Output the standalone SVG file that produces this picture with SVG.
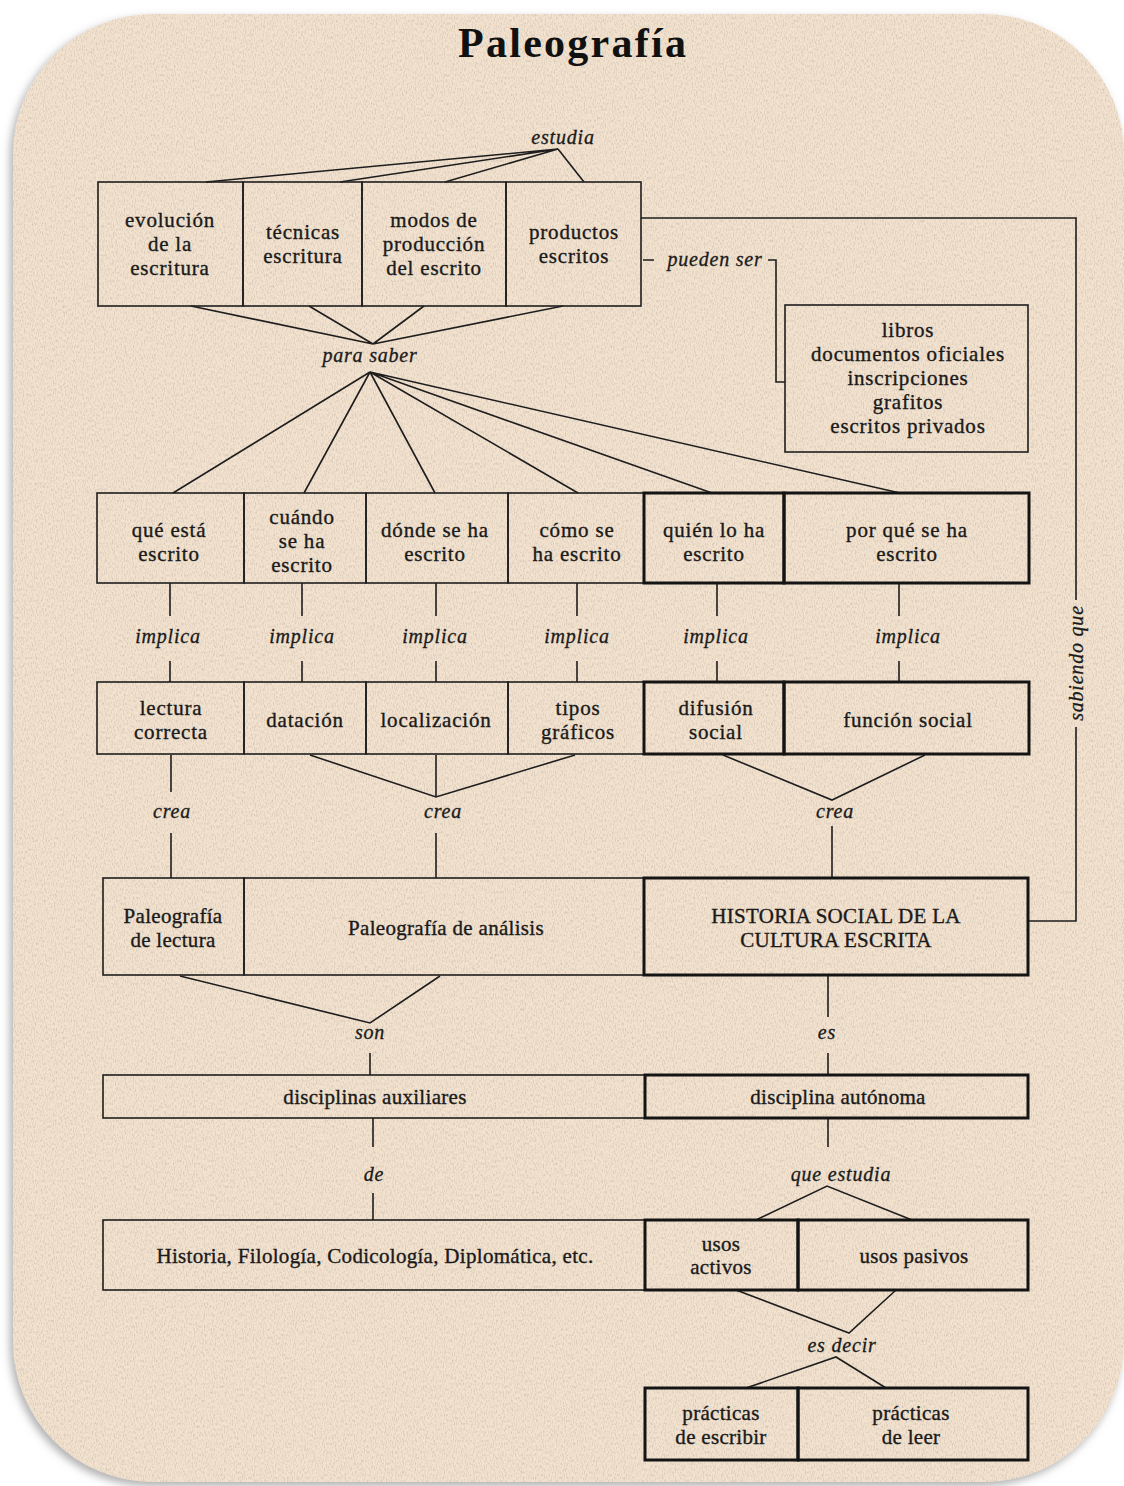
<svg xmlns="http://www.w3.org/2000/svg" width="1124" height="1486" viewBox="0 0 1124 1486">
<defs>
<filter id="sh" x="-5%" y="-5%" width="110%" height="110%">
<feDropShadow dx="-3" dy="4" stdDeviation="4" flood-color="#7a7a7a" flood-opacity="0.6"/>
</filter>
<filter id="noise" x="0" y="0" width="100%" height="100%">
<feTurbulence type="fractalNoise" baseFrequency="0.9 0.35" numOctaves="2" seed="3" result="n"/>
<feColorMatrix in="n" type="matrix" values="0 0 0 0 0.45  0 0 0 0 0.4  0 0 0 0 0.35  0 0 0 -2.2 1.25" result="m"/>
<feComposite in="m" in2="SourceGraphic" operator="in"/>
</filter>
<style>
.t{font-family:"Liberation Serif","Times New Roman",serif;font-size:21px;fill:#1a1a1a;stroke:#1a1a1a;stroke-width:0.35;text-anchor:middle;letter-spacing:0.8px}
.c{font-family:"Liberation Serif","Times New Roman",serif;font-size:21px;fill:#1a1a1a;stroke:#1a1a1a;stroke-width:0.35;text-anchor:middle;letter-spacing:0.3px}
.i{font-family:"Liberation Serif","Times New Roman",serif;font-size:20px;font-style:italic;fill:#1a1a1a;stroke:#1a1a1a;stroke-width:0.3;text-anchor:middle;letter-spacing:0.8px}
.b{fill:none;stroke:#1e1e1e;stroke-width:1.6}
.B{fill:none;stroke:#141414;stroke-width:3}
.l{fill:none;stroke:#1e1e1e;stroke-width:1.6}
</style>
</defs>
<rect width="1124" height="1486" fill="#ffffff"/>
<rect x="13" y="14" width="1111" height="1468" rx="140" ry="140" fill="#f3e2ce" filter="url(#sh)"/>
<rect x="13" y="14" width="1111" height="1468" rx="140" ry="140" fill="#f3e2ce" filter="url(#noise)" opacity="0.5"/>
<text x="572" y="57" text-anchor="middle" font-family="Liberation Serif,serif" font-weight="bold" font-size="42" textLength="228" fill="#111">Paleografía</text>

<g id="connectors">
<path class="l" d="M558,149 L206,182 M558,149 L340,182 M558,149 L445,182 M558,149 L584,182"/>
<path class="l" d="M191,306 L373,344 M309,306 L373,344 M424,306 L373,344 M563,306 L373,344"/>
<path class="l" d="M370,372 L173,493 M370,372 L304,493 M370,372 L435,493 M370,372 L578,493 M370,372 L712,493 M370,372 L900,493"/>
<path class="l" d="M643,260 H654 M768,260 H776 V382 H785"/>
<path class="l" d="M641,218 H1076 V600 M1076,727 V921 H1028"/>
<path class="l" d="M170,583 V616 M170,661 V682 M302,583 V616 M302,661 V682 M436,583 V616 M436,661 V682 M577,583 V616 M577,661 V682 M717,583 V616 M717,661 V682 M899,583 V616 M899,661 V682"/>
<path class="l" d="M171,755 V792 M171,833 V878 M310,755 L436,797 L575,755 M436,755 V797 M436,833 V878 M723,755 L832,800 L925,755 M832,826 V878"/>
<path class="l" d="M180,976 L370,1023 L440,976 M370,1053 V1075 M828,976 V1017 M828,1053 V1075"/>
<path class="l" d="M373,1118 V1147 M373,1193 V1220 M828,1118 V1147 M756,1220 L827,1186 L912,1220"/>
<path class="l" d="M736,1290 L849,1333 L896,1290 M746,1388 L836,1357 L886,1388"/>
</g>
<text class="i" x="563" y="144">estudia</text>
<text class="i" x="370" y="362">para saber</text>
<text class="i" x="715" y="266">pueden ser</text>
<text class="i" transform="translate(1083,663) rotate(-90)" letter-spacing="0.3">sabiendo que</text>
<text class="i" x="168" y="643">implica</text>
<text class="i" x="302" y="643">implica</text>
<text class="i" x="435" y="643">implica</text>
<text class="i" x="577" y="643">implica</text>
<text class="i" x="716" y="643">implica</text>
<text class="i" x="908" y="643">implica</text>
<text class="i" x="172" y="818">crea</text>
<text class="i" x="443" y="818">crea</text>
<text class="i" x="835" y="818">crea</text>
<text class="i" x="370" y="1039">son</text>
<text class="i" x="827" y="1039">es</text>
<text class="i" x="374" y="1181">de</text>
<text class="i" x="841" y="1181">que estudia</text>
<text class="i" x="842" y="1352">es decir</text>

<g id="n-evolucion"><rect class="b" x="98" y="182" width="145" height="124"/><text class="t" x="170" y="227">evolución</text><text class="t" x="170" y="251">de la</text><text class="t" x="170" y="275">escritura</text></g>
<g id="n-tecnicas"><rect class="b" x="243" y="182" width="119" height="124"/><text class="t" x="303" y="239">técnicas</text><text class="t" x="303" y="263">escritura</text></g>
<g id="n-modos"><rect class="b" x="362" y="182" width="144" height="124"/><text class="t" x="434" y="227">modos de</text><text class="t" x="434" y="251">producción</text><text class="t" x="434" y="275">del escrito</text></g>
<g id="n-productos"><rect class="b" x="506" y="182" width="135" height="124"/><text class="t" x="574" y="239">productos</text><text class="t" x="574" y="263">escritos</text></g>
<g id="n-tipos-productos"><rect class="b" x="785" y="305" width="243" height="147"/><text class="t" x="908" y="337">libros</text><text class="t" x="908" y="361">documentos oficiales</text><text class="t" x="908" y="385">inscripciones</text><text class="t" x="908" y="409">grafitos</text><text class="t" x="908" y="433">escritos privados</text></g>

<g id="n-que"><rect class="b" x="97" y="493" width="147" height="90"/><text class="t" x="169" y="537">qué está</text><text class="t" x="169" y="561">escrito</text></g>
<g id="n-cuando"><rect class="b" x="244" y="493" width="122" height="90"/><text class="t" x="302" y="524">cuándo</text><text class="t" x="302" y="548">se ha</text><text class="t" x="302" y="572">escrito</text></g>
<g id="n-donde"><rect class="b" x="366" y="493" width="142" height="90"/><text class="t" x="435" y="537">dónde se ha</text><text class="t" x="435" y="561">escrito</text></g>
<g id="n-como"><rect class="b" x="508" y="493" width="136" height="90"/><text class="t" x="577" y="537">cómo se</text><text class="t" x="577" y="561">ha escrito</text></g>
<g id="n-quien"><rect class="B" x="644" y="493" width="140" height="90"/><text class="t" x="714" y="537">quién lo ha</text><text class="t" x="714" y="561">escrito</text></g>
<g id="n-porque"><rect class="B" x="784" y="493" width="245" height="90"/><text class="t" x="907" y="537">por qué se ha</text><text class="t" x="907" y="561">escrito</text></g>

<g id="n-lectura"><rect class="b" x="97" y="682" width="147" height="72"/><text class="t" x="171" y="715">lectura</text><text class="t" x="171" y="739">correcta</text></g>
<g id="n-datacion"><rect class="b" x="244" y="682" width="122" height="72"/><text class="t" x="305" y="727">datación</text></g>
<g id="n-localizacion"><rect class="b" x="366" y="682" width="142" height="72"/><text class="t" x="436" y="727">localización</text></g>
<g id="n-tipos"><rect class="b" x="508" y="682" width="136" height="72"/><text class="t" x="578" y="715">tipos</text><text class="t" x="578" y="739">gráficos</text></g>
<g id="n-difusion"><rect class="B" x="644" y="682" width="140" height="72"/><text class="t" x="716" y="715">difusión</text><text class="t" x="716" y="739">social</text></g>
<g id="n-funcion"><rect class="B" x="784" y="682" width="245" height="72"/><text class="t" x="908" y="727">función social</text></g>

<g id="n-pal-lectura"><rect class="b" x="103" y="878" width="141" height="97"/><text class="c" x="173" y="923">Paleografía</text><text class="c" x="173" y="947">de lectura</text></g>
<g id="n-pal-analisis"><rect class="b" x="244" y="878" width="400" height="97"/><text class="c" x="446" y="935">Paleografía de análisis</text></g>
<g id="n-historia"><rect class="B" x="644" y="878" width="384" height="97"/><text class="c" x="836" y="923" letter-spacing="0.8">HISTORIA SOCIAL DE LA</text><text class="c" x="836" y="947" letter-spacing="0.8">CULTURA ESCRITA</text></g>

<g id="n-auxiliares"><rect class="b" x="103" y="1075" width="542" height="43"/><text class="c" x="375" y="1104">disciplinas auxiliares</text></g>
<g id="n-autonoma"><rect class="B" x="645" y="1075" width="383" height="43"/><text class="c" x="838" y="1104">disciplina autónoma</text></g>

<g id="n-historia-etc"><rect class="b" x="103" y="1220" width="542" height="70"/><text class="c" x="375" y="1263">Historia, Filología, Codicología, Diplomática, etc.</text></g>
<g id="n-activos"><rect class="B" x="645" y="1220" width="153" height="70"/><text class="c" x="721" y="1251">usos</text><text class="c" x="721" y="1274">activos</text></g>
<g id="n-pasivos"><rect class="B" x="798" y="1220" width="230" height="70"/><text class="c" x="914" y="1263">usos pasivos</text></g>

<g id="n-escribir"><rect class="B" x="645" y="1388" width="153" height="72"/><text class="c" x="721" y="1420">prácticas</text><text class="c" x="721" y="1444">de escribir</text></g>
<g id="n-leer"><rect class="B" x="798" y="1388" width="230" height="72"/><text class="c" x="911" y="1420">prácticas</text><text class="c" x="911" y="1444">de leer</text></g>
</svg>
